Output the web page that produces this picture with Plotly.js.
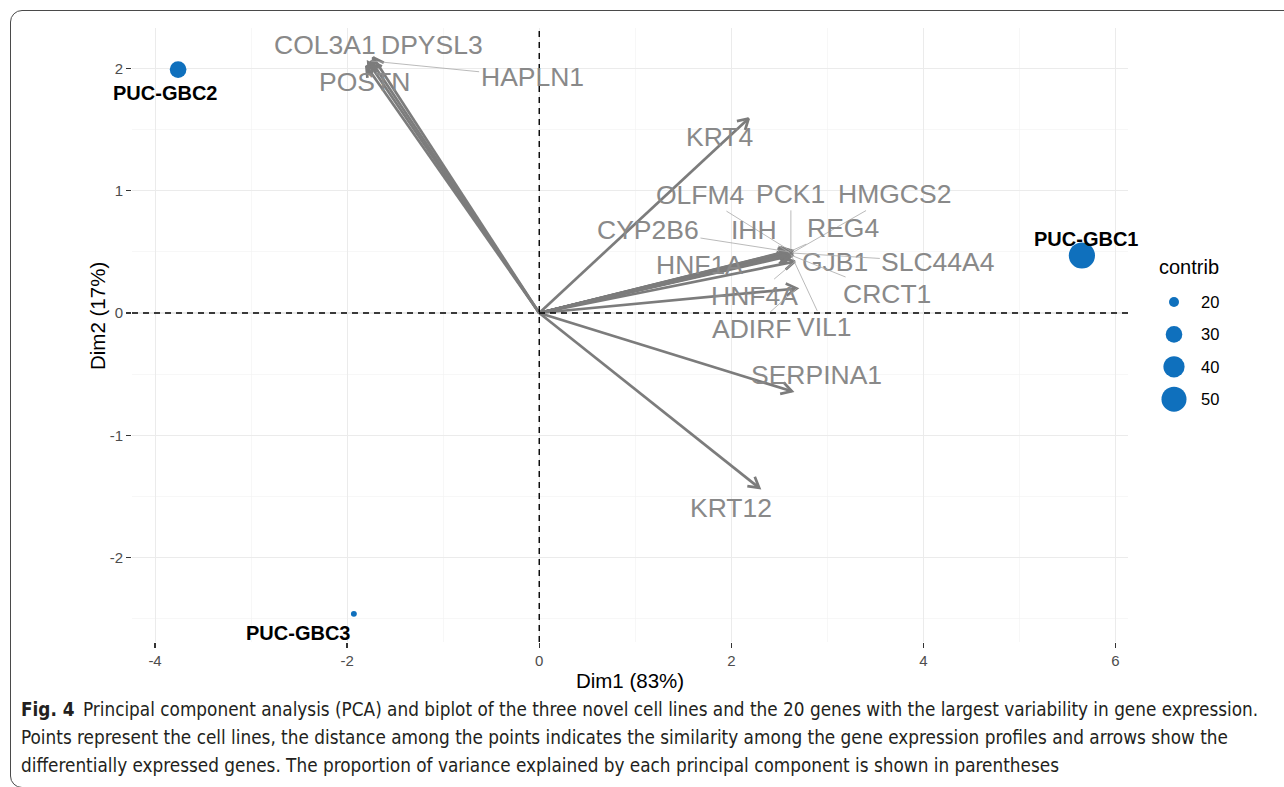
<!DOCTYPE html>
<html><head><meta charset="utf-8">
<script src="https://cdn.plot.ly/plotly-3.0.1.min.js"></script>
<style>
html,body{margin:0;padding:0;background:#fff;}
#wrap{position:relative;width:1284px;height:787px;overflow:hidden;}
#chart{position:absolute;left:0;top:0;width:1284px;height:787px;}
#frame{position:absolute;left:10px;top:10px;width:1300px;height:776px;border:1.6px solid #4a4a4a;border-radius:12px;pointer-events:none;}
</style></head><body>
<div id="wrap"><div id="chart"></div><div id="frame"></div></div>
<script>
// ---------- DATA ----------
const cellLines   = ['PUC-GBC1', 'PUC-GBC2', 'PUC-GBC3'];
const cellDim1    = [5.65, -3.76, -1.93];
const cellDim2    = [0.47, 1.99, -2.46];
const cellContrib = [53.5, 30.2, 16.3];

const genes = ['COL3A1','DPYSL3','POSTN','HAPLN1','KRT4','SERPINA1','KRT12',
               'OLFM4','PCK1','HMGCS2','CYP2B6','IHH','REG4','HNF1A','GJB1',
               'SLC44A4','HNF4A','CRCT1','ADIRF','VIL1'];
const geneDim1 = [-1.78,-1.73,-1.80,-1.75, 2.18, 2.63, 2.29,
                   2.61, 2.62, 2.63, 2.60, 2.61, 2.63, 2.59, 2.62,
                   2.64, 2.66, 2.63, 2.68, 2.62];
const geneDim2 = [ 2.05, 2.09, 2.02, 2.06, 1.59,-0.64,-1.43,
                   0.51, 0.50, 0.49, 0.50, 0.49, 0.51, 0.47, 0.48,
                   0.49, 0.42, 0.47, 0.20, 0.48];

const legendBreaks = [20, 30, 40, 50];
const xTicks = [-4, -2, 0, 2, 4, 6];
const yTicks = [-2, -1, 0, 1, 2];

// ---------- LAYOUT CONSTANTS ----------
const W = 1284, H = 787, ML = 132, MR = 10, MT = 28, MB = 145;
const panelW = 996, paperW = W - ML - MR, paperH = H - MT - MB;
const xRange = [-4.24, 6.13], yRange = [-2.69, 2.33];
const pxX = panelW / (xRange[1] - xRange[0]);
const pxY = paperH / (yRange[1] - yRange[0]);
const FONT = 'Liberation Sans, Arial, Helvetica, sans-serif';
const BLUE = '#0F70BD';

// label offsets (pixels from arrow tip) and whether a repel segment is drawn
const labelOffsets = [[-43,-17],[59,-12],[-2,16],[161,16],[-29,18],[25,-16],[-28,20],
                      [-90,-56],[0,-58],[103,-59],[-141,-22],[-36,-23],[51,-23],[-89,9],[44,8],
                      [145,9],[-40,34],[95,38],[-45,40],[34,73]];
const labelSegment = [false,false,false,true,false,false,false,
                      true,true,true,true,true,true,false,false,
                      true,true,true,true,true];
const cellLabelShift = [[4,17],[-13,-23],[-56,-19]];

function sizeFor(v){ return Math.sqrt(Math.max(17.5 * (v - 14.3), 4)); }
const px2paperX = p => (p - ML) / paperW;
const px2paperY = p => 1 - (p - MT) / paperH;

// arrows (shaft + open chevron head) built from gene coordinates
const ax_ = [], ay_ = [];
const headLen = 12, headAng = Math.PI / 6;
for (let i = 0; i < genes.length; i++) {
  const tx = geneDim1[i], ty = geneDim2[i];
  ax_.push(0, tx, null); ay_.push(0, ty, null);
  const dx = tx * pxX, dy = ty * pxY, len = Math.hypot(dx, dy);
  const ux = dx / len, uy = dy / len;
  const pts = [1, -1].map(s => {
    const c = Math.cos(s * headAng), sn = Math.sin(s * headAng);
    const rx = ux * c - uy * sn, ry = ux * sn + uy * c;
    return [tx - headLen * rx / pxX, ty - headLen * ry / pxY];
  });
  ax_.push(pts[0][0], tx, pts[1][0], null);
  ay_.push(pts[0][1], ty, pts[1][1], null);
}

const traces = [
  { type: 'scatter', mode: 'lines', x: ax_, y: ay_, hoverinfo: 'skip',
    line: { color: '#7c7c7c', width: 2.7 }, showlegend: false },
  { type: 'scatter', mode: 'markers', x: cellDim1, y: cellDim2, text: cellLines,
    marker: { color: BLUE, opacity: 1, size: cellContrib.map(sizeFor), line: { width: 0 } }, showlegend: false },
  { type: 'scatter', mode: 'markers', xaxis: 'x2', yaxis: 'y2',
    x: legendBreaks.map(() => 24), y: legendBreaks,
    marker: { color: BLUE, opacity: 1, size: legendBreaks.map(sizeFor), line: { width: 0 } }, showlegend: false }
];

const annotations = [];
genes.forEach((g, i) => {
  annotations.push({
    x: geneDim1[i], y: geneDim2[i], xref: 'x', yref: 'y', text: g,
    showarrow: true, ax: labelOffsets[i][0], ay: labelOffsets[i][1], axref: 'pixel', ayref: 'pixel',
    arrowhead: 0, standoff: 0, arrowwidth: labelSegment[i] ? 0.8 : 0.1,
    arrowcolor: labelSegment[i] ? '#a8a8a8' : 'rgba(0,0,0,0)',
    font: { family: FONT, size: 26.5, color: '#898989' }
  });
});
cellLines.forEach((c, i) => {
  annotations.push({
    x: cellDim1[i], y: cellDim2[i], xref: 'x', yref: 'y', text: '<b>' + c + '</b>',
    showarrow: false, xshift: cellLabelShift[i][0], yshift: cellLabelShift[i][1],
    font: { family: FONT, size: 20, color: '#000' }
  });
});
// y-axis title
annotations.push({ xref: 'paper', yref: 'paper', x: px2paperX(97), y: px2paperY(316),
  xanchor: 'center', yanchor: 'middle', showarrow: false, text: 'Dim2 (17%)', textangle: -90,
  font: { family: FONT, size: 20.5, color: '#000' } });
// legend
annotations.push({ xref: 'paper', yref: 'paper', x: px2paperX(1157), y: px2paperY(267),
  xanchor: 'left', yanchor: 'middle', showarrow: false, text: 'contrib',
  font: { family: FONT, size: 20, color: '#000' } });
legendBreaks.forEach(v => annotations.push({ xref: 'x2', yref: 'y2', x: 49, y: v,
  xanchor: 'left', yanchor: 'middle', showarrow: false, text: String(v),
  font: { family: FONT, size: 16.5, color: '#000' } }));
// caption
const CAP = 'Liberation Sans Narrow, DejaVu Sans Condensed, Arial Narrow, sans-serif';
const captionLines = [
  '<b>Fig. 4</b>\u2002Principal component analysis (PCA) and biplot of the three novel cell lines and the 20 genes with the largest variability in gene expression.',
  'Points represent the cell lines, the distance among the points indicates the similarity among the gene expression profiles and arrows show the',
  'differentially expressed genes. The proportion of variance explained by each principal component is shown in parentheses'
];
const capY = [709, 737, 765];
captionLines.forEach((t, i) => annotations.push({ xref: 'paper', yref: 'paper',
  x: px2paperX(19), y: px2paperY(capY[i]), xanchor: 'left', yanchor: 'middle',
  showarrow: false, text: t, font: { family: CAP, size: 18.8, color: '#231f20' } }));

const half = a => a.map(v => v - (a[1] - a[0]) / 2).concat(a[a.length - 1] + (a[1] - a[0]) / 2);

const layout = {
  width: W, height: H, margin: { l: ML, r: MR, t: MT, b: MB },
  paper_bgcolor: 'rgba(255,255,255,0)', plot_bgcolor: '#fff',
  font: { family: FONT },
  showlegend: false,
  xaxis: {
    domain: [0, panelW / paperW], range: xRange, autorange: false,
    tickmode: 'array', tickvals: xTicks, ticktext: xTicks.map(String),
    ticks: 'outside', ticklen: 5, tickwidth: 1.4, tickcolor: '#333',
    tickfont: { family: FONT, size: 15, color: '#4d4d4d' },
    showgrid: true, gridcolor: '#ebebeb', gridwidth: 1.1, zeroline: false, showline: false,
    minor: { tickmode: 'array', tickvals: half(xTicks), showgrid: true, gridcolor: '#f2f2f2', gridwidth: 0.6, ticks: '' },
    title: { text: 'Dim1 (83%)', font: { family: FONT, size: 20.5, color: '#000' }, standoff: 5 }
  },
  yaxis: {
    domain: [0, 1], range: yRange, autorange: false,
    tickmode: 'array', tickvals: yTicks, ticktext: yTicks.map(String),
    ticks: 'outside', ticklen: 5, tickwidth: 1.4, tickcolor: '#333',
    tickfont: { family: FONT, size: 15, color: '#4d4d4d' },
    showgrid: true, gridcolor: '#ebebeb', gridwidth: 1.1, zeroline: false, showline: false,
    minor: { tickmode: 'array', tickvals: half(yTicks), showgrid: true, gridcolor: '#f2f2f2', gridwidth: 0.6, ticks: '' }
  },
  xaxis2: { domain: [px2paperX(1150), px2paperX(1230)], range: [0, 80], visible: false, fixedrange: true, anchor: 'y2' },
  yaxis2: { domain: [px2paperY(420), px2paperY(280)], range: [56.42, 13.21], visible: false, fixedrange: true, anchor: 'x2' },
  shapes: [
    { type: 'line', xref: 'x', yref: 'y domain', x0: 0, x1: 0, y0: 0, y1: 1,
      line: { color: '#000', width: 1.4, dash: '6px,5px' }, layer: 'above' },
    { type: 'line', xref: 'x domain', yref: 'y', x0: 0, x1: 1, y0: 0, y1: 0,
      line: { color: '#000', width: 1.4, dash: '6px,5px' }, layer: 'above' }
  ],
  annotations: annotations
};

Plotly.newPlot('chart', traces, layout, { staticPlot: true, displayModeBar: false });
</script>
</body></html>
